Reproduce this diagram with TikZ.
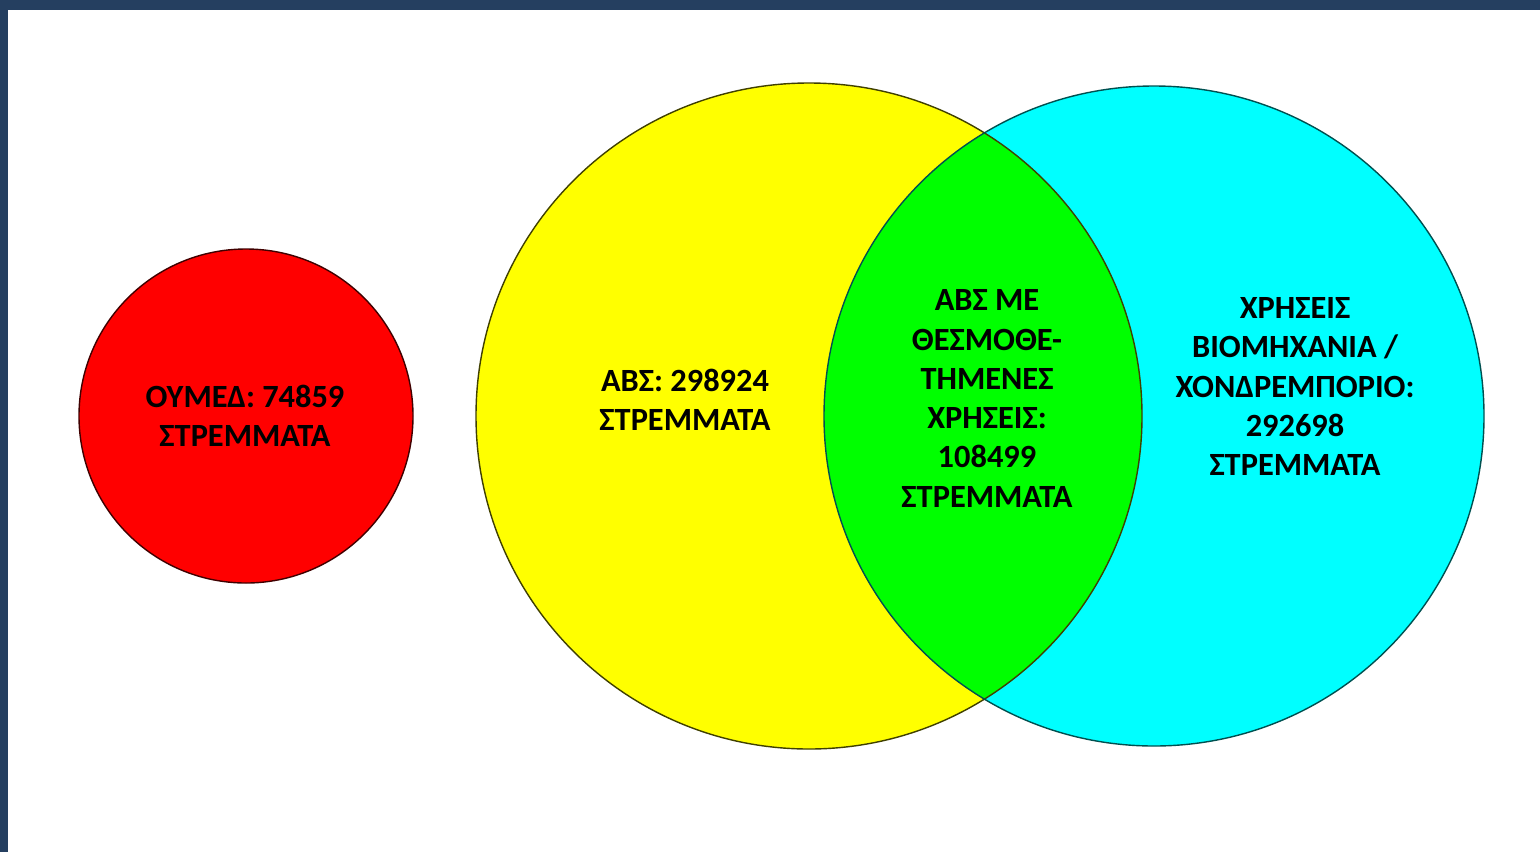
\documentclass[tikz,border=0pt]{standalone}
\usepackage{fontspec}
\setmainfont{Carlito}
\definecolor{navy}{HTML}{253F60}
\definecolor{redfill}{HTML}{FF0000}
\definecolor{yelfill}{HTML}{FFFF00}
\definecolor{cyafill}{HTML}{00FFFF}
\definecolor{grnfill}{HTML}{00FF00}
\definecolor{redline}{HTML}{400000}
\definecolor{yelline}{HTML}{404000}
\definecolor{cyanline}{HTML}{005050}
\tikzset{
  venn/.style={circle, inner sep=0pt, outer sep=0pt},
  lbl/.style={align=center, inner sep=0pt, text=black,
    font=\bfseries\fontsize{16.2}{19.65}\selectfont},
}
\begin{document}
\begin{tikzpicture}[x=0.5pt,y=-0.5pt]
\fill[navy] (0,0) rectangle (1540,852);
\fill[white] (8,10) rectangle (1540,852);
\useasboundingbox (0,0) rectangle (1540,852);
% circles
\node[venn, fill=redfill, draw=redline, line width=0.7pt, minimum size=167pt] (redc) at (246,416) {};
\node[venn, fill=yelfill, minimum size=333pt] (yelc) at (809,416) {};
\node[venn, fill=cyafill, minimum size=330pt] (cyac) at (1154,416) {};
\begin{scope}
  \clip (yelc.center) circle[radius=166.5pt];
  \fill[grnfill] (cyac.center) circle[radius=165pt];
\end{scope}
\draw[yelline, line width=0.7pt] (yelc.center) circle[radius=166.5pt];
\draw[cyanline, line width=0.7pt] (cyac.center) circle[radius=165pt];
% labels
\node[lbl] (tred) at (245,416) {ΟΥΜΕΔ: 74859\\ΣΤΡΕΜΜΑΤΑ};
\node[lbl] (tyel) at (685,400) {ΑΒΣ: 298924\\ΣΤΡΕΜΜΑΤΑ};
\node[lbl] (tgrn) at (987,398.5) {ΑΒΣ ΜΕ\\ΘΕΣΜΟΘΕ-\\ΤΗΜΕΝΕΣ\\ΧΡΗΣΕΙΣ:\\108499\\ΣΤΡΕΜΜΑΤΑ};
\node[lbl] (tcya) at (1295,386.5) {ΧΡΗΣΕΙΣ\\ΒΙΟΜΗΧΑΝΙΑ /\\ΧΟΝΔΡΕΜΠΟΡΙΟ:\\292698\\ΣΤΡΕΜΜΑΤΑ};
\end{tikzpicture}
\end{document}
